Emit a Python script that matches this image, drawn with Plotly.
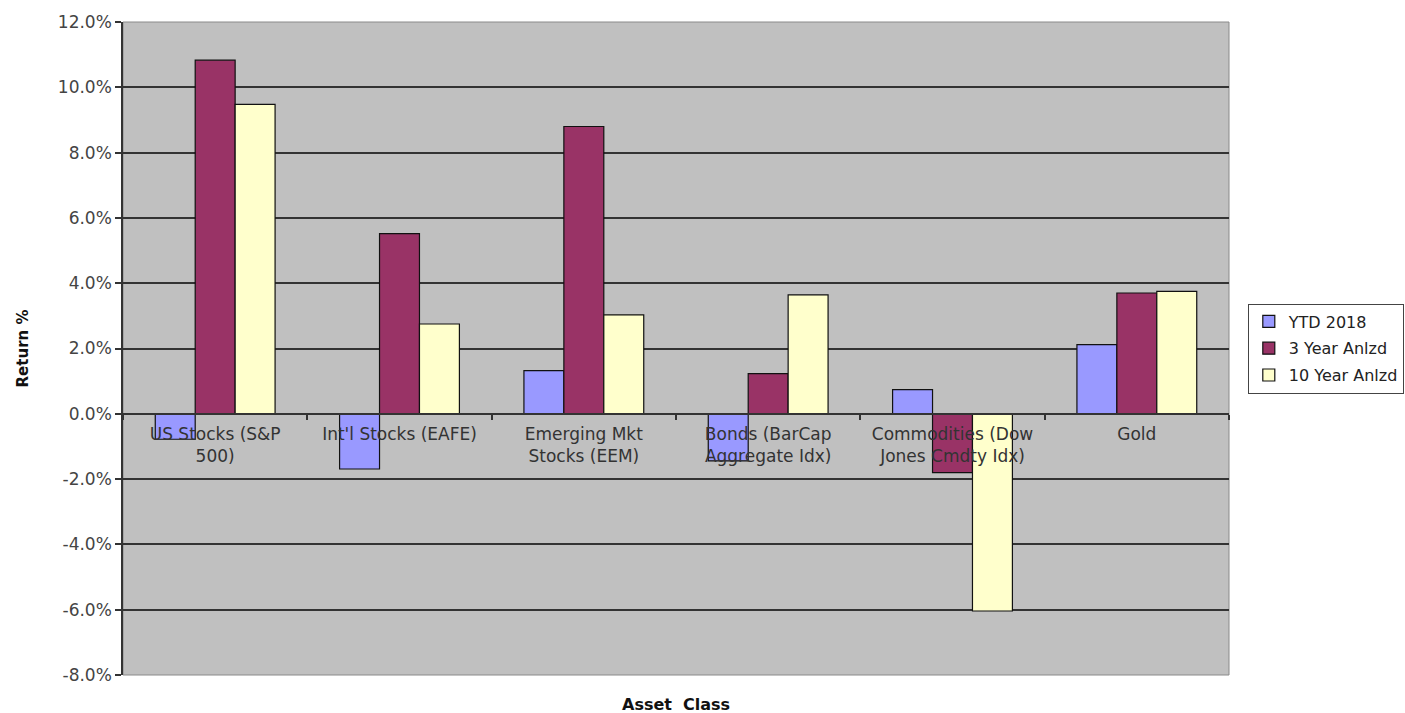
import plotly.graph_objects as go

categories = [
    "US Stocks (S&P<br>500)",
    "Int'l Stocks (EAFE)",
    "Emerging Mkt<br>Stocks (EEM)",
    "Bonds (BarCap<br>Aggregate Idx)",
    "Commodities (Dow<br>Jones Cmdty Idx)",
    "Gold",
]
series_names = ["YTD 2018", "3 Year Anlzd", "10 Year Anlzd"]
ytd_2018 = [-0.78, -1.69, 1.32, -1.44, 0.74, 2.12]
three_year = [10.83, 5.52, 8.80, 1.23, -1.80, 3.70]
ten_year = [9.48, 2.75, 3.03, 3.64, -6.04, 3.75]
colors = ["#9999FF", "#993366", "#FFFFCC"]
y_range = [-8, 12]
y_ticks = [-8, -6, -4, -2, 0, 2, 4, 6, 8, 10, 12]
y_ticktext = [f"{v:.1f}%" for v in y_ticks]

fig = go.Figure()
for name, vals, col in zip(series_names, [ytd_2018, three_year, ten_year], colors):
    fig.add_trace(go.Bar(
        x=categories, y=vals, name=name, legendgroup=name,
        marker=dict(color=col, line=dict(color="#111111", width=1.2)),
    ))

font_main = "DejaVu Sans, Arial, sans-serif"
zero_pos = (0 - y_range[0]) / (y_range[1] - y_range[0])

fig.update_layout(
    width=1405, height=713,
    margin=dict(l=123, r=176, t=22, b=38, autoexpand=False),
    paper_bgcolor="white",
    plot_bgcolor="#C0C0C0",
    barmode="group",
    bargap=0.35,
    bargroupgap=0,
    font=dict(family=font_main, size=15, color="#333333"),
    showlegend=True,
    legend=dict(
        x=1.017, xanchor="left", y=0.5, yanchor="middle",
        bgcolor="white", bordercolor="#444444", borderwidth=1,
        font=dict(family=font_main, size=16, color="#222222"),
        tracegroupgap=3,
    ),
    xaxis=dict(
        anchor="free", position=zero_pos,
        showline=True, linecolor="#333333", linewidth=1.5,
        ticks="outside", ticklen=5, tickcolor="#333333", tickwidth=1.5,
        tickson="boundaries", ticklabelstandoff=5,
        tickfont=dict(family=font_main, size=17, color="#333333"),
        showgrid=False,
    ),
    yaxis=dict(
        range=y_range, tickvals=y_ticks, ticktext=y_ticktext,
        showgrid=True, gridcolor="#333333", gridwidth=1.5,
        zeroline=False,
        showline=True, linecolor="#333333", linewidth=1.5,
        ticks="outside", ticklen=6, tickcolor="#333333", tickwidth=1.5,
        tickfont=dict(family=font_main, size=17, color="#444444"),
        title=dict(text="<b>Return %</b>", font=dict(family=font_main, size=15, color="#111111"), standoff=26),
    ),
    shapes=[dict(type="rect", xref="paper", yref="paper", x0=0, x1=1, y0=0, y1=1,
                 line=dict(color="#8a8a8a", width=1), layer="below")],
    annotations=[dict(text="<b>Asset  Class</b>", xref="paper", yref="paper", x=0.5, y=0,
                      yshift=-18, yanchor="top", showarrow=False,
                      font=dict(family=font_main, size=16, color="#111111"))],
)

fig.write_html("out.html")
